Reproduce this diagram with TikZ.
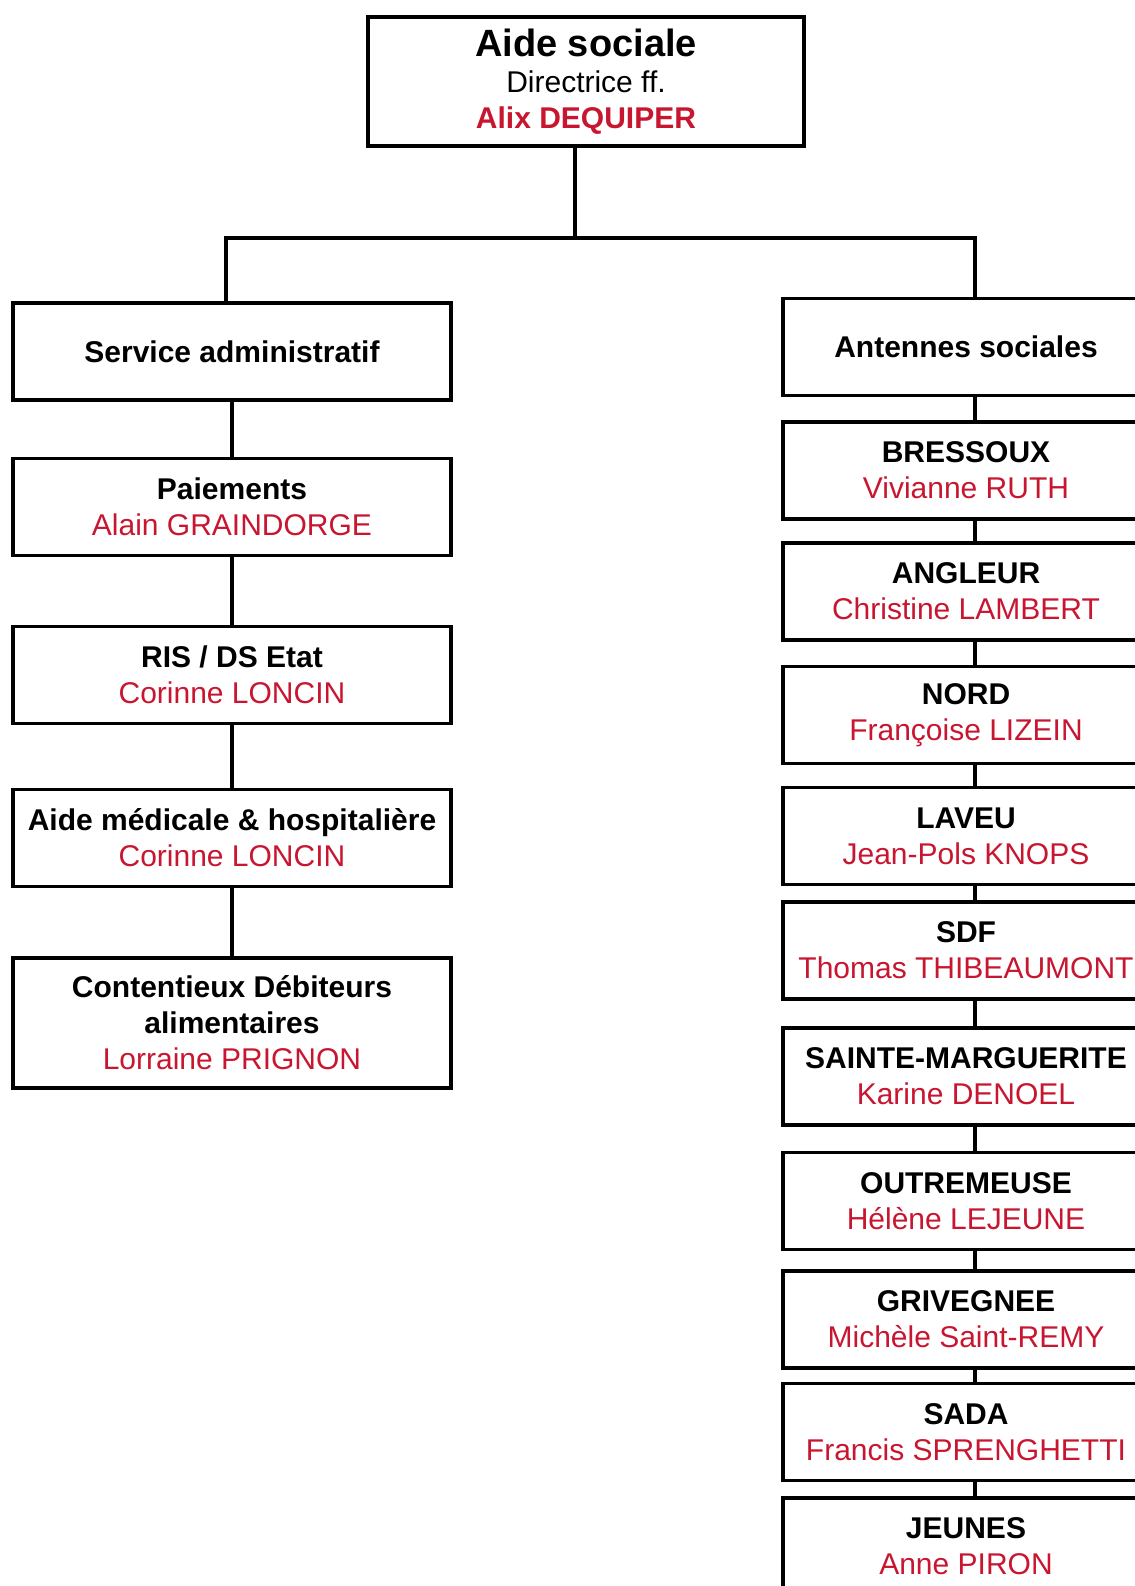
\documentclass[tikz,border=0pt]{standalone}
\usepackage{fontspec}
\setmainfont{Liberation Sans}
\definecolor{nomrouge}{RGB}{200,22,48}
\newcommand{\nom}[1]{\textcolor{nomrouge}{#1}}
\begin{document}
\begin{tikzpicture}[x=0.5pt,y=-0.5pt,
  boite/.style={draw, line width=1.6pt, align=center, inner sep=0pt,
    minimum height=48.5pt, font=\fontsize{15}{18}\selectfont},
  gauche/.style={boite, minimum width=219pt},
  droite/.style={boite, minimum width=183pt},
  lien/.style={line width=1.6pt}]
\useasboundingbox (0,0) rectangle (1135,1586);
\clip (0,0) rectangle (1135,1586);
% direction
\node[boite, minimum width=218pt, minimum height=64.5pt] (aide) at (586,81.5)
  {{\fontsize{19}{22}\selectfont\bfseries Aide sociale}\\Directrice ff.\\{\bfseries\nom{Alix DEQUIPER}}};
% colonne de gauche
\node[gauche] (sadm) at (232,351.5) {\bfseries Service administratif};
\node[gauche] (paie) at (232,507) {{\bfseries Paiements}\\\nom{Alain GRAINDORGE}};
\node[gauche] (ris) at (232,675) {{\bfseries RIS / DS Etat}\\\nom{Corinne LONCIN}};
\node[gauche] (amh) at (232,838) {{\bfseries Aide médicale \& hospitalière}\\\nom{Corinne LONCIN}};
\node[gauche, minimum height=65pt] (cont) at (232,1023)
  {{\bfseries Contentieux Débiteurs}\\{\bfseries alimentaires}\\\nom{Lorraine PRIGNON}};
% colonne de droite
\node[droite] (ant) at (966,347) {\bfseries Antennes sociales};
\node[droite] (bre) at (966,470.5) {{\bfseries BRESSOUX}\\\nom{Vivianne RUTH}};
\node[droite] (ang) at (966,591.5) {{\bfseries ANGLEUR}\\\nom{Christine LAMBERT}};
\node[droite] (nord) at (966,715) {{\bfseries NORD}\\\nom{Françoise LIZEIN}};
\node[droite] (lav) at (966,836) {{\bfseries LAVEU}\\\nom{Jean-Pols KNOPS}};
\node[droite] (sdf) at (966,950.5) {{\bfseries SDF}\\\nom{Thomas THIBEAUMONT}};
\node[droite] (stm) at (966,1076.5) {{\bfseries SAINTE-MARGUERITE}\\\nom{Karine DENOEL}};
\node[droite] (out) at (966,1201) {{\bfseries OUTREMEUSE}\\\nom{Hélène LEJEUNE}};
\node[droite] (gri) at (966,1319.5) {{\bfseries GRIVEGNEE}\\\nom{Michèle Saint-REMY}};
\node[droite] (sada) at (966,1432) {{\bfseries SADA}\\\nom{Francis SPRENGHETTI}};
\node[droite] (jeu) at (966,1546.5) {{\bfseries JEUNES}\\\nom{Anne PIRON}};
% liaisons
\coordinate (bus) at (575,238);
\draw[lien] ([xshift=-5.5pt]aide.south) -- (bus);
\draw[lien] ([xshift=-3pt]sadm.north) |- (bus) -| ([xshift=4.5pt]ant.north);
\foreach \a/\b in {sadm/paie, paie/ris, ris/amh, amh/cont}
  \draw[lien] (\a.south) -- (\b.north);
\foreach \a/\b in {ant/bre, bre/ang, ang/nord, nord/lav, lav/sdf, sdf/stm, stm/out, out/gri, gri/sada, sada/jeu}
  \draw[lien] ([xshift=4.5pt]\a.south) -- ([xshift=4.5pt]\b.north);
\end{tikzpicture}
\end{document}
